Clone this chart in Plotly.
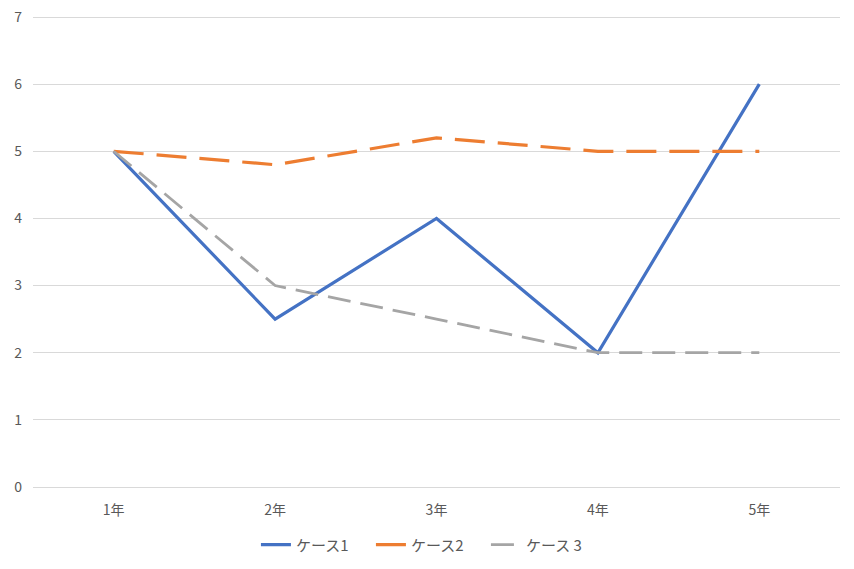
import plotly.graph_objects as go

categories = ["1年", "2年", "3年", "4年", "5年"]
case1 = [5, 2.5, 4, 2, 6]
case2 = [5, 4.8, 5.2, 5, 5]
case3 = [5, 3, 2.5, 2, 2]
names = ["ケース1", "ケース2", "ケース 3"]
colors = ["#4472C4", "#ED7D31", "#A5A5A5"]

FONT = "Noto Sans CJK JP, Noto Sans, sans-serif"

fig = go.Figure()
fig.add_trace(go.Scatter(x=categories, y=case1, name=names[0], mode="lines",
                         line=dict(color=colors[0], width=3.2)))
fig.add_trace(go.Scatter(x=categories, y=case2, name=names[1], mode="lines",
                         line=dict(color=colors[1], width=3.2, dash="30px,13px")))
fig.add_trace(go.Scatter(x=categories, y=case3, name=names[2], mode="lines",
                         line=dict(color=colors[2], width=2.8, dash="23px,10px")))

fig.update_layout(
    width=854, height=569,
    margin=dict(l=33, r=14, t=16, b=82, autoexpand=False),
    paper_bgcolor="white", plot_bgcolor="white",
    font=dict(family=FONT, size=14, color="#595959"),
    showlegend=True,
    legend=dict(orientation="h", x=0.49, xanchor="center", y=-0.123, yanchor="middle",
                font=dict(size=15, color="#595959"), itemwidth=30,
                entrywidth=70, entrywidthmode="pixels"),
    xaxis=dict(type="category", range=[-0.5, 4.5], showgrid=False, showline=False,
               zeroline=False, ticks="", ticklabelstandoff=13, automargin=False,
               tickfont=dict(size=14, color="#595959")),
    yaxis=dict(range=[0, 7.015], tickvals=[0, 1, 2, 3, 4, 5, 6, 7], showgrid=True,
               gridcolor="#D9D9D9", gridwidth=1,
               zeroline=True, zerolinecolor="#D9D9D9", zerolinewidth=1,
               showline=False, ticks="", ticklabelstandoff=10, automargin=False,
               tickfont=dict(size=14, color="#595959")),
)

fig.write_html("out.html",
               config={"displayModeBar": False},
               post_script="document.body.style.margin='0';document.body.style.overflow='hidden';")
